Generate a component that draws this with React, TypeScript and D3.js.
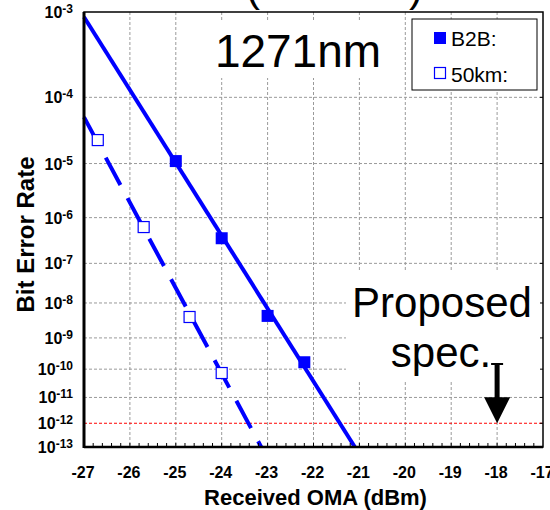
import React from "react";
import * as d3 from "d3";

// measured points
const b2bOma = [-25, -24, -23, -22.2];
const b2bBer = [1.1e-5, 3.7e-7, 4.4e-9, 1.7e-10];
const km50Oma = [-26.7, -25.7, -24.7, -24];
const km50Ber = [2.4e-5, 6.4e-7, 4.1e-9, 7.4e-11];

// fitted lines (end points)
const b2bFitOma = [-27, -21.1];
const b2bFitBer = [8.9e-4, 1e-13];
const km50FitOma = [-27, -23.14];
const km50FitBer = [5.3e-5, 1e-13];

const xTicks = [-27, -26, -25, -24, -23, -22, -21, -20, -19, -18, -17];
const yExp = [3, 4, 5, 6, 7, 8, 9, 10, 11, 12, 13];
const specOma = -18;
const specBer = 1e-12;

const W = 550;
const H = 510;
const margin = { top: 12, right: 7, bottom: 63, left: 84 };
const FONT = "'Liberation Sans', Arial, Helvetica, sans-serif";
const BLUE = "#0000ff";

export default function App() {
  const x = d3.scaleLinear().domain([-27, -17]).range([margin.left, W - margin.right]);
  // BER axis: log(-log10(BER))
  const q = d3.scaleLog().domain([3, 13]).range([margin.top, H - margin.bottom]);
  const y = (ber: number) => q(-Math.log10(ber));

  const line = d3
    .line<[number, number]>()
    .x((d) => x(d[0]))
    .y((d) => y(d[1]));

  const b2bFit = line(b2bFitOma.map((o, i) => [o, b2bFitBer[i]]));
  const km50Fit = line(km50FitOma.map((o, i) => [o, km50FitBer[i]]));

  const x0 = x(-27);
  const x1 = x(-17);
  const y0 = q(3);
  const y1 = q(13);

  const minor = d3.range(-27, -17.001, 0.2);
  const sx = x(specOma);
  const sy = y(specBer);

  return (
    <svg width={W} height={H} style={{ position: "absolute", left: 0, top: 0, background: "#fff" }} fontFamily={FONT}>
      <rect width={W} height={H} fill="#fff" />
      {/* top cut off title */}
      <text x={246} y={1} fontSize={42}>(</text>
      <text x={409} y={1} fontSize={42}>)</text>

      {/* grid */}
      {xTicks.slice(1, -1).map((t) => (
        <line key={"gx" + t} x1={x(t)} x2={x(t)} y1={y0} y2={y1} stroke="#9a9a9a" strokeDasharray="3,2" />
      ))}
      {yExp.slice(1, -1).map((e) => (
        <line
          key={"gy" + e}
          x1={x0}
          x2={x1}
          y1={q(e)}
          y2={q(e)}
          stroke={e === 12 ? "#ff0000" : "#9a9a9a"}
          strokeDasharray="3,2"
        />
      ))}

      {/* text boxes */}
      <rect x={192} y={21} width={206} height={57} fill="#fff" />
      <text x={298} y={67} fontSize={46} textAnchor="middle">1271nm</text>
      <rect x={346} y={272} width={x1 - 347} height={110} fill="#fff" />
      <text x={442} y={317} fontSize={42} textAnchor="middle">Proposed</text>
      <text x={441} y={367} fontSize={42} textAnchor="middle">spec.</text>

      {/* arrow */}
      <line x1={sx} x2={sx} y1={363} y2={400} stroke="#000" strokeWidth={5} />
      <line x1={sx - 6} x2={sx + 6} y1={364} y2={364} stroke="#000" strokeWidth={2} />
      <path d={`M${sx - 13},${sy - 26}L${sx + 13},${sy - 26}L${sx},${sy}Z`} fill="#000" />

      {/* fits */}
      <path d={b2bFit || ""} fill="none" stroke={BLUE} strokeWidth={4} />
      <path d={km50Fit || ""} fill="none" stroke={BLUE} strokeWidth={4} strokeDasharray="31,15" />

      {/* markers */}
      {b2bOma.map((o, i) => (
        <rect key={"b" + i} x={x(o) - 6} y={y(b2bBer[i]) - 6} width={12} height={12} fill={BLUE} />
      ))}
      {km50Oma.map((o, i) => (
        <rect
          key={"k" + i}
          x={x(o) - 5.5}
          y={y(km50Ber[i]) - 5.5}
          width={11}
          height={11}
          fill="#fff"
          stroke={BLUE}
          strokeWidth={1.2}
        />
      ))}

      {/* frame */}
      <rect x={x0} y={y0} width={x1 - x0} height={y1 - y0} fill="none" stroke="#000" strokeWidth={1.5} />
      <line x1={x0} x2={x0} y1={y0} y2={y1 + 1} stroke="#000" strokeWidth={3} />
      <line x1={x0} x2={x1} y1={y1} y2={y1} stroke="#000" strokeWidth={2.5} />
      {minor.map((m, i) => (
        <line key={"m" + i} x1={x(m)} x2={x(m)} y1={y1} y2={y1 - 4} stroke="#000" strokeWidth={1} />
      ))}
      {yExp.slice(1, -1).map((e) => (
        <line key={"rt" + e} x1={x1} x2={x1 - 3} y1={q(e)} y2={q(e)} stroke="#000" strokeWidth={1} />
      ))}

      {/* y tick labels */}
      {yExp.map((e) => (
        <text key={"yl" + e} x={73} y={q(e) + 6} textAnchor="end" fontSize={16} fontWeight="bold">
          10
          <tspan dy={-5} fontSize={12}>{"-" + e}</tspan>
        </text>
      ))}

      {/* x tick labels */}
      {xTicks.map((t) => (
        <text key={"xl" + t} x={x(t) - 1} y={478} textAnchor="middle" fontSize={16} fontWeight="bold">
          {t}
        </text>
      ))}

      {/* axis titles */}
      <text x={(x0 + x1) / 2 + 2} y={505} textAnchor="middle" fontSize={22} fontWeight="bold">
        Received OMA (dBm)
      </text>
      <text
        transform={`translate(34,${(y0 + y1) / 2 + 5}) rotate(-90)`}
        textAnchor="middle"
        fontSize={24}
        fontWeight="bold"
      >
        Bit Error Rate
      </text>

      {/* legend */}
      <rect x={412} y={19} width={125} height={71} fill="#fff" stroke="#000" strokeWidth={1} />
      <rect x={434} y={32} width={12} height={12} fill={BLUE} />
      <text x={451} y={46} fontSize={21}>B2B:</text>
      <rect x={434.5} y={67.5} width={11} height={11} fill="#fff" stroke={BLUE} strokeWidth={1.2} />
      <text x={451} y={82} fontSize={21}>50km:</text>
    </svg>
  );
}
